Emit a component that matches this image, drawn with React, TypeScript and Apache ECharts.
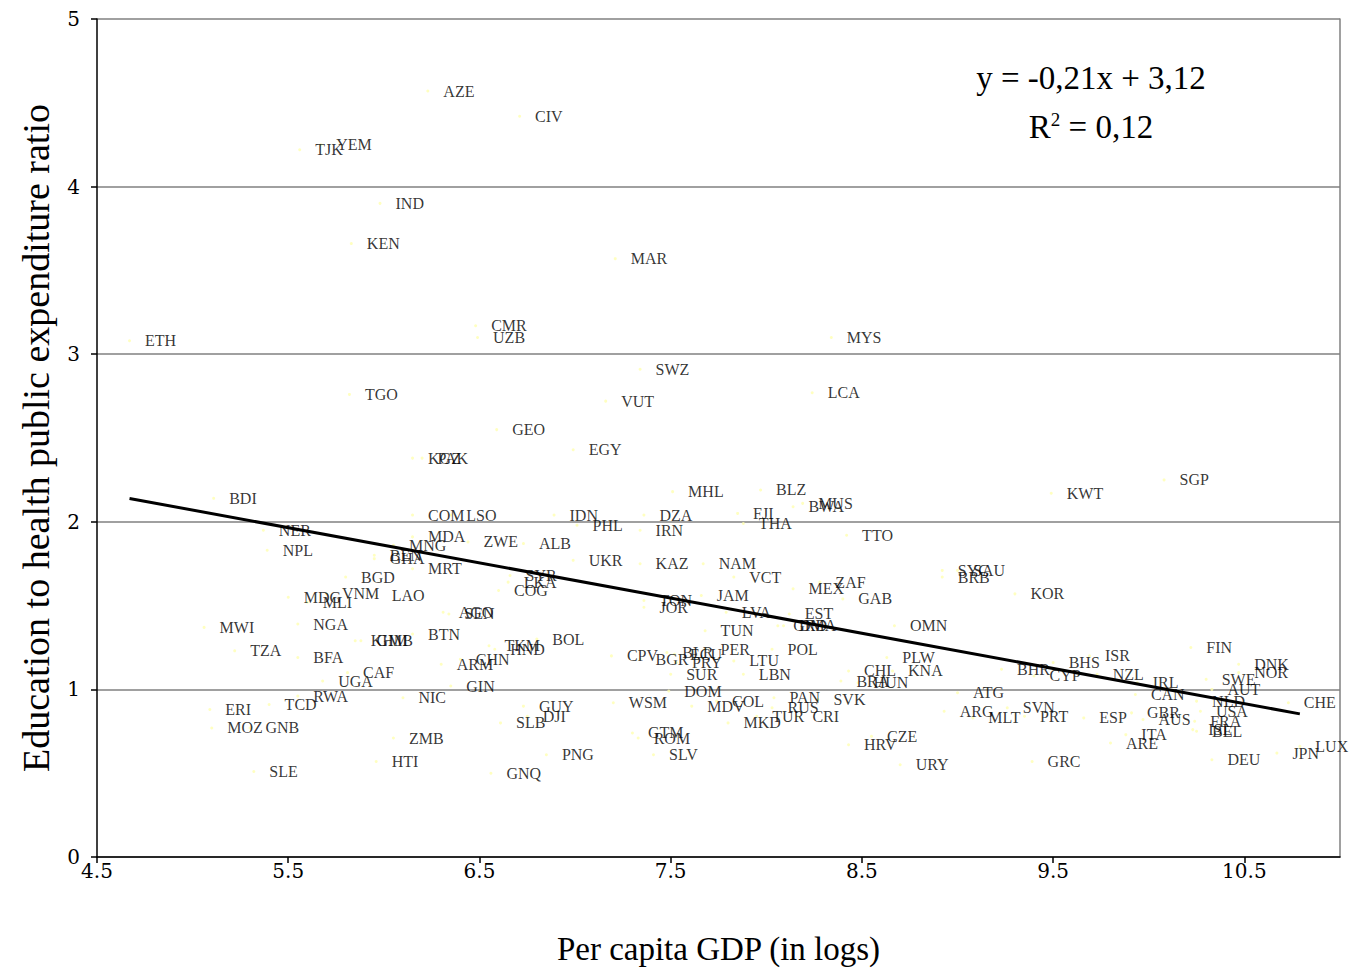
import React, { useEffect, useRef } from "react";
import * as echarts from "echarts";

const codes = ["AZE","CIV","TJK","YEM","IND","KEN","MAR","ETH","CMR","UZB","MYS","SWZ","TGO","LCA","VUT","GEO","EGY","KGZ","PAK","SGP","KWT","BDI","MHL","BLZ","BWA","MUS","FJI","THA","DZA","IRN","IDN","PHL","COM","LSO","TTO","NER","NPL","MDA","MNG","ZWE","ALB","BEN","GHA","UKR","NAM","KAZ","MRT","BGD","SYR","LKA","COG","VCT","SYC","SAU","BRB","ZAF","MEX","GAB","MDG","VNM","MLI","LAO","JAM","TON","JOR","KOR","EST","LVA","AGO","SEN","MWI","NGA","TUN","OMN","GRD","DMA","BTN","KHM","GMB","BOL","TKM","HND","FIN","TZA","BFA","ARM","CHN","CPV","BGR","BLR","ECU","PRY","SUR","PER","LTU","POL","LBN","BHS","ISR","DNK","NOR","PLW","CHL","KNA","BHR","CYP","NZL","CAF","UGA","BRA","HUN","IRL","SWE","AUT","GIN","DOM","ATG","CAN","NIC","RWA","TCD","CHE","NLD","PAN","SVK","WSM","MDV","COL","GUY","DJI","ERI","ARG","SVN","MLT","PRT","ESP","GBR","AUS","USA","RUS","TUR","CRI","MKD","SLB","FRA","MOZ","GNB","GTM","ROM","ITA","ARE","ISL","BEL","ZMB","CZE","HRV","LUX","JPN","SLV","PNG","HTI","GRC","DEU","URY","SLE","GNQ"];

const gdpLog = [6.23,6.71,5.56,5.67,5.98,5.83,7.21,4.67,6.48,6.49,8.34,7.34,5.82,8.24,7.16,6.59,6.99,6.15,6.20,10.08,9.49,5.11,7.51,7.97,8.14,8.19,7.85,7.88,7.36,7.34,6.89,7.01,6.15,6.35,8.42,5.37,5.39,6.15,6.05,6.44,6.73,5.95,5.95,6.99,7.67,7.34,6.15,5.80,6.66,6.65,6.60,7.83,8.92,9.00,8.92,8.28,8.14,8.40,5.50,5.70,5.60,5.96,7.66,7.36,7.36,9.30,8.12,7.79,6.31,6.34,5.06,5.55,7.68,8.67,8.06,8.09,6.15,5.85,5.88,6.80,6.55,6.58,10.22,5.22,5.55,6.30,6.40,7.19,7.34,7.48,7.52,7.53,7.50,7.68,7.83,8.03,7.88,9.50,9.69,10.47,10.47,8.63,8.43,8.66,9.23,9.40,9.73,5.81,5.68,8.39,8.48,9.94,10.30,10.33,6.35,7.49,9.00,9.93,6.10,5.55,5.40,10.73,10.25,8.04,8.27,7.20,7.61,7.74,6.73,6.75,5.09,8.93,9.26,9.08,9.35,9.66,9.91,9.97,10.27,8.03,7.95,8.16,7.80,6.61,10.24,5.10,5.30,7.30,7.33,9.88,9.80,10.23,10.25,6.05,8.55,8.43,10.79,10.67,7.41,6.85,5.96,9.39,10.33,8.70,5.32,6.56];

const ratio = [4.57,4.42,4.22,4.25,3.90,3.66,3.57,3.08,3.17,3.10,3.10,2.91,2.76,2.77,2.72,2.55,2.43,2.38,2.38,2.25,2.17,2.14,2.18,2.19,2.09,2.11,2.05,1.99,2.04,1.95,2.04,1.98,2.04,2.04,1.92,1.95,1.83,1.91,1.86,1.88,1.87,1.80,1.78,1.77,1.75,1.75,1.72,1.67,1.68,1.64,1.59,1.67,1.71,1.71,1.67,1.64,1.60,1.54,1.55,1.57,1.52,1.56,1.56,1.53,1.49,1.57,1.45,1.46,1.46,1.45,1.37,1.39,1.35,1.38,1.38,1.38,1.33,1.29,1.29,1.30,1.26,1.24,1.25,1.23,1.19,1.15,1.18,1.20,1.18,1.22,1.21,1.16,1.09,1.24,1.17,1.24,1.09,1.16,1.20,1.15,1.10,1.19,1.11,1.11,1.12,1.08,1.09,1.10,1.05,1.05,1.04,1.04,1.06,1.00,1.02,0.99,0.98,0.97,0.95,0.96,0.91,0.92,0.93,0.95,0.94,0.92,0.90,0.93,0.90,0.84,0.88,0.87,0.89,0.83,0.84,0.83,0.86,0.82,0.87,0.89,0.84,0.84,0.80,0.80,0.81,0.77,0.77,0.74,0.71,0.73,0.68,0.76,0.75,0.71,0.72,0.67,0.66,0.62,0.61,0.61,0.57,0.57,0.58,0.55,0.51,0.50];

const xTicks = [4.5, 5.5, 6.5, 7.5, 8.5, 9.5, 10.5];
const trendSlope = -0.21;
const trendIntercept = 3.12;
const trendRange = [4.67, 10.79];

const serif = "'Liberation Serif', 'Times New Roman', serif";
const tickFont = "'DejaVu Serif', serif";

export default function App() {
  const ref = useRef<HTMLDivElement>(null);
  useEffect(() => {
    if (!ref.current) return;
    const chart = echarts.init(ref.current, null, { renderer: "svg" });
    const pts = codes.map((c, i) => ({ name: c, value: [gdpLog[i], ratio[i]] }));
    const trend = trendRange.map((x) => [x, trendSlope * x + trendIntercept]);
    chart.setOption({
      animation: false,
      backgroundColor: "#ffffff",
      grid: { left: 97, top: 19, right: 10, bottom: 114, containLabel: false, outerBoundsMode: "none" },
      xAxis: {
        type: "value",
        min: 4.5,
        max: 11,
        name: "Per capita GDP (in logs)",
        nameLocation: "middle",
        nameGap: 75,
        nameTextStyle: { fontFamily: serif, fontSize: 33, color: "#000" },
        axisLine: { show: true, onZero: false, lineStyle: { color: "#000", width: 1.5 } },
        axisTick: { show: true, length: 6, customValues: xTicks, lineStyle: { color: "#000", width: 1.5 } },
        axisLabel: { customValues: xTicks, margin: 4, fontFamily: tickFont, fontSize: 20, color: "#000", formatter: (v: number) => v.toFixed(1) },
        splitLine: { show: false },
      },
      yAxis: [
        {
          type: "value",
          min: 0,
          max: 5,
          interval: 1,
          name: "Education to health public expenditure ratio",
          nameLocation: "middle",
          nameGap: 42,
          nameRotate: 90,
          nameTextStyle: { fontFamily: serif, fontSize: 38, color: "#000" },
          axisLine: { show: true, lineStyle: { color: "#000", width: 1.5 } },
          axisTick: { show: true, length: 6, lineStyle: { color: "#000", width: 1.5 } },
          axisLabel: { margin: 17, fontFamily: tickFont, fontSize: 20, color: "#000" },
          splitLine: { show: true, lineStyle: { color: "#808080", width: 1.5 } },
        },
        {
          type: "value",
          min: 0,
          max: 5,
          interval: 1,
          position: "right",
          axisLine: { show: true, lineStyle: { color: "#808080", width: 1.5 } },
          axisTick: { show: false },
          axisLabel: { show: false },
          splitLine: { show: false },
        },
      ],
      series: [
        {
          type: "scatter",
          data: pts,
          symbol: "circle",
          symbolSize: 3,
          itemStyle: { color: "#ffffb0" },
          label: {
            show: true,
            position: "right",
            distance: 14,
            formatter: "{b}",
            fontFamily: serif,
            fontSize: 16,
            color: "#000",
          },
          z: 3,
        },
        {
          type: "line",
          data: trend,
          symbol: "none",
          lineStyle: { color: "#000", width: 3 },
          z: 4,
        },
      ],
      graphic: [
        {
          type: "text",
          x: 1091,
          y: 78,
          style: { text: "y = -0,21x + 3,12", fontFamily: serif, fontSize: 33, fill: "#000", align: "center", verticalAlign: "middle" },
        },
        {
          type: "text",
          x: 1091,
          y: 127,
          style: {
            text: "R{sup|2} = 0,12",
            fontFamily: serif,
            fontSize: 33,
            fill: "#000",
            align: "center",
            verticalAlign: "middle",
            rich: { sup: { fontFamily: serif, fontSize: 19, verticalAlign: "top", padding: [0, 0, 16, 0] } },
          },
        },
      ],
    });
    return () => chart.dispose();
  }, []);
  return <div ref={ref} style={{ position: "fixed", left: 0, top: 0, width: 1350, height: 971 }} />;
}
